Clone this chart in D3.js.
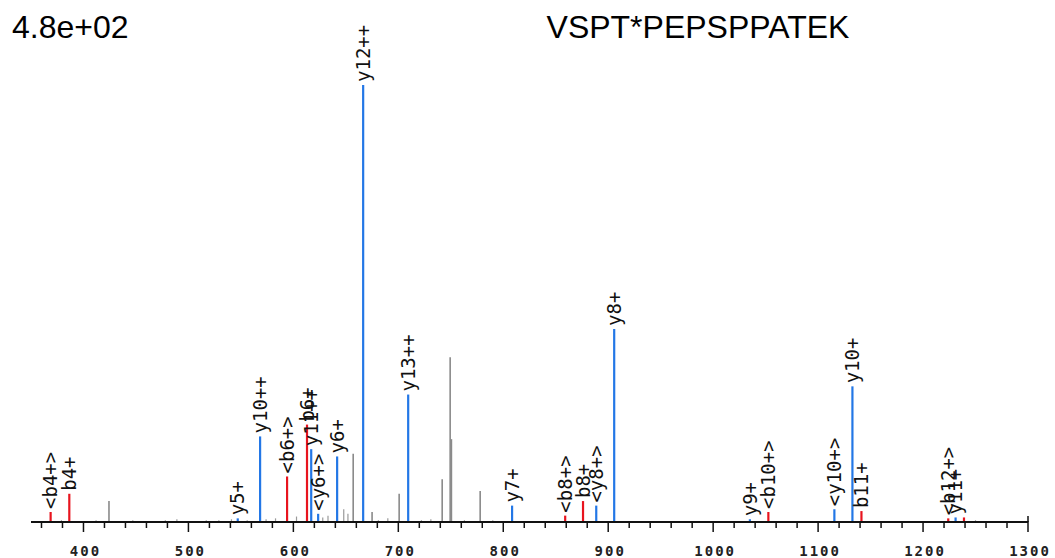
<!DOCTYPE html>
<html>
<head>
<meta charset="utf-8">
<script src="https://cdn.jsdelivr.net/npm/d3@7"></script>
<style>
  body { margin: 0; background: #fff; }
  svg { display: block; }
</style>
</head>
<body>
<div class="container"></div>
<script>
// peak list: m/z, intensity, ion kind, label
var mzValues    = [368.7, 386.5, 424.3, 547.0, 568.3, 594.0, 613.0, 617.0, 623.6, 641.7,
                   657.0, 666.5, 675.0, 700.8, 709.4, 741.8, 749.4, 750.6, 778.0, 808.4,
                   859.0, 876.0, 888.6, 905.7, 1035.0, 1052.6, 1115.5, 1132.7, 1141.3, 1224.0,
                   1231.0, 1239.0];
var intensities = [11, 31, 23, 4, 94, 50, 107, 80, 9, 72,
                   75, 480, 11, 31, 140, 47, 181, 91, 34, 18,
                   7, 23, 18, 212, 3, 11, 14, 149, 12, 4,
                   5, 5];
var ionKinds    = ["b", "b", "n", "y", "y", "b", "b", "y", "y", "y",
                   "n", "y", "n", "n", "y", "n", "n", "n", "n", "y",
                   "b", "b", "y", "y", "y", "b", "y", "y", "b", "b",
                   "y", "b"];
var peakLabels  = ["<b4+>", "b4+", "", "y5+", "y10++", "<b6+>", "b6+", "y11++", "<y6+>", "y6+",
                   "", "y12++", "", "", "y13++", "", "", "", "", "y7+",
                   "<b8+>", "b8+", "<y8+>", "y8+", "y9+", "<b10+>", "<y10+>", "y10+", "b11+", "<b12+>",
                   "y11+", ""];

// small unlabelled noise peaks
var noiseMz  = [379, 398, 412, 433, 447, 462, 478, 489, 503, 517, 529, 541, 556, 574, 583,
                603, 628, 633, 648, 652, 681, 690, 722, 731, 763, 790, 842, 1012, 1165, 1250];
var noiseInt = [2, 1, 2, 1, 2, 1, 2, 3, 1, 2, 2, 3, 2, 3, 4,
                6, 5, 7, 14, 9, 2, 4, 2, 3, 2, 2, 1, 1, 1, 2];

var xTicksMajor = [400, 500, 600, 700, 800, 900, 1000, 1100, 1200, 1300];
var maxLabel = "4.8e+02";
var peptide = "VSPT*PEPSPPATEK";

var width = 1055, height = 558;
var baseY = 522;

var colors = { b: "#e8141e", y: "#2377e6", n: "#8a8a8a" };

var svg = d3.select(".container").append("svg")
  .attr("width", width)
  .attr("height", height);

var x = d3.scaleLinear().domain([350, 1300]).range([31, 1028]);
var y = d3.scaleLinear().domain([0, 480]).range([baseY, 85]);

// noise
svg.append("g")
  .selectAll("line")
  .data(noiseMz)
  .enter()
  .append("line")
    .attr("x1", function(d) { return x(d); })
    .attr("x2", function(d) { return x(d); })
    .attr("y1", baseY)
    .attr("y2", function(d, i) { return y(noiseInt[i]); })
    .attr("stroke", "#9a9a9a")
    .attr("stroke-width", 1.2);

// peaks
svg.append("g")
  .selectAll("line")
  .data(mzValues)
  .enter()
  .append("line")
    .attr("x1", function(d) { return x(d); })
    .attr("x2", function(d) { return x(d); })
    .attr("y1", baseY)
    .attr("y2", function(d, i) { return y(intensities[i]); })
    .attr("stroke", function(d, i) { return colors[ionKinds[i]]; })
    .attr("stroke-width", function(d, i) { return ionKinds[i] == "n" ? 1.6 : 2.2; });

// peak labels, rotated
svg.append("g")
  .selectAll("text")
  .data(mzValues)
  .enter()
  .append("text")
    .attr("transform", function(d, i) {
      return "translate(" + x(d) + "," + (y(intensities[i]) - 3) + ") rotate(-90)";
    })
    .attr("dy", "0.35em")
    .style("font-family", "DejaVu Sans Mono")
    .style("font-size", "19px")
    .style("letter-spacing", "0px")
    .attr("fill", "#111")
    .text(function(d, i) { return peakLabels[i]; });

// axis
var axis = svg.append("g");
axis.append("line")
  .attr("x1", 31).attr("x2", x(1300))
  .attr("y1", baseY).attr("y2", baseY)
  .attr("stroke", "#111")
  .attr("stroke-width", 2);

var minorTicks = d3.range(360, 1301, 20);
axis.selectAll(".tick")
  .data(minorTicks)
  .enter()
  .append("line")
    .attr("class", "tick")
    .attr("x1", function(d) { return x(d); })
    .attr("x2", function(d) { return x(d); })
    .attr("y1", baseY - 1)
    .attr("y2", function(d) { return d % 100 == 0 ? baseY + 10 : baseY + 6; })
    .attr("stroke", "#111")
    .attr("stroke-width", 1.5);

axis.append("line")
  .attr("x1", x(1300)).attr("x2", x(1300))
  .attr("y1", baseY - 6).attr("y2", baseY)
  .attr("stroke", "#111")
  .attr("stroke-width", 1.5);

axis.selectAll(".tl")
  .data(xTicksMajor)
  .enter()
  .append("text")
    .attr("class", "tl")
    .attr("x", function(d) { return x(d) + 2; })
    .attr("y", 556)
    .attr("text-anchor", "middle")
    .style("font-family", "DejaVu Sans Mono")
    .style("font-weight", "bold")
    .style("font-size", "14px")
    .style("letter-spacing", "2px")
    .attr("fill", "#222")
    .text(function(d) { return d; });

svg.append("text")
  .attr("x", 12)
  .attr("y", 38)
  .style("font-family", "Liberation Sans")
  .style("font-size", "32px")
  .attr("fill", "#000")
  .text(maxLabel);

svg.append("text")
  .attr("x", 698)
  .attr("y", 38)
  .attr("text-anchor", "middle")
  .style("font-family", "Liberation Sans")
  .style("font-size", "32px")
  .attr("fill", "#000")
  .text(peptide);
</script>
</body>
</html>
